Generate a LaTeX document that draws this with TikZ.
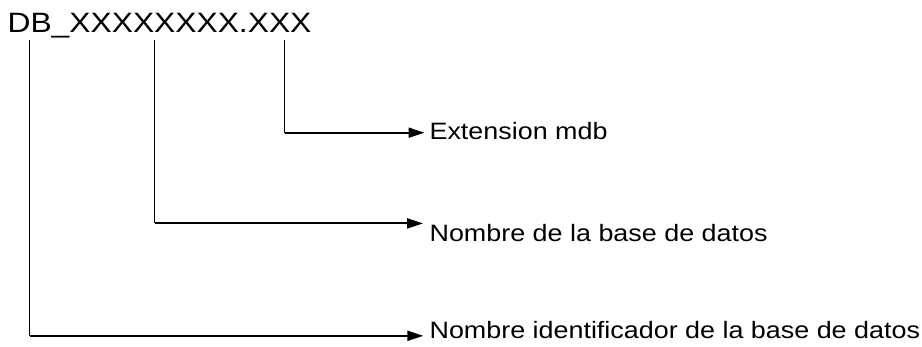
\documentclass[tikz,border=0pt]{standalone}
\usepackage{fontspec}
\setmainfont{Liberation Sans}[FakeStretch=1.135]
\usetikzlibrary{arrows.meta}
\tikzset{
  txt/.style={anchor=base west, inner sep=0pt, outer sep=0pt},
  titletxt/.style={txt, font=\fontsize{28}{30}\selectfont},
  labeltxt/.style={txt, font=\fontsize{23.7}{26}\selectfont},
  stem/.style={line width=1pt, black},
  lead/.style={line width=2pt, black, -{Triangle[length=16pt,width=10pt]}}
}
\begin{document}
\begin{tikzpicture}[x=1pt,y=-1pt]
\useasboundingbox (0,0) rectangle (922,346);
\node[titletxt] (title) at (7.6,32.3) {DB\_XXXXXXXX.XXX};
\node[labeltxt] (ext) at (429.6,139.3) {Extension mdb};
\node[labeltxt] (nom) at (429.6,241.7) {Nombre de la base de datos};
\node[labeltxt] (ident) at (429.6,338.3) {Nombre identificador de la base de datos};
% stems
\coordinate (s1) at (284.5,40);
\coordinate (c1) at (284.5,132.7);
\coordinate (t1) at (424.5,132.7);
\coordinate (s2) at (154.7,40);
\coordinate (c2) at (154.7,223.4);
\coordinate (t2) at (423,223.4);
\coordinate (s3) at (29.5,40);
\coordinate (c3) at (29.5,335.8);
\coordinate (t3) at (423.3,335.8);
\draw[stem] (s1) -- (c1);
\draw[stem] (s2) -- (c2);
\draw[stem] (s3) -- (c3);
\draw[lead] (c1) -- (t1);
\draw[lead] (c2) -- (t2);
\draw[lead] (c3) -- (t3);
\end{tikzpicture}
\end{document}
